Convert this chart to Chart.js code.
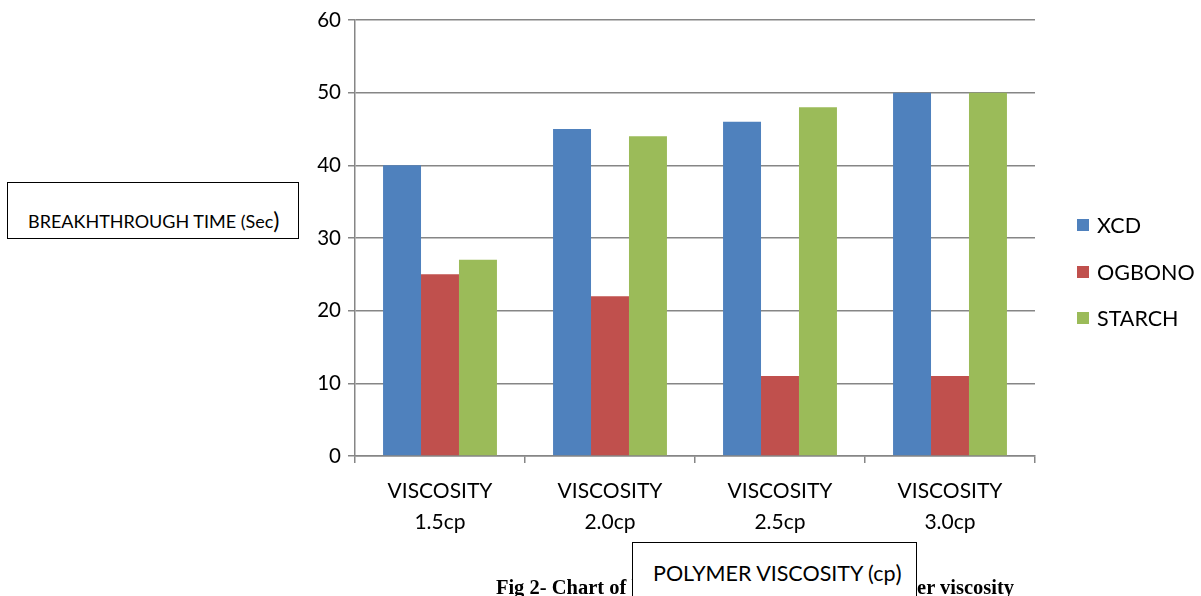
<!DOCTYPE html>
<html>
<head>
<meta charset="utf-8">
<script src="https://cdn.jsdelivr.net/npm/chart.js@4.4.1/dist/chart.umd.min.js"></script>
<style>
  html,body{margin:0;padding:0;background:#fff;}
  #wrap{position:relative;width:1201px;height:596px;overflow:hidden;font-family:Lato,"Open Sans",sans-serif;}
  #c{position:absolute;left:0;top:0;}
  .box{position:absolute;border:1.5px solid #000;background:#fff;box-sizing:border-box;color:#000;}
  #ylab{left:7px;top:182px;width:292px;height:57px;font-size:18px;}
  #ylab .t{position:absolute;left:20px;top:22px;white-space:nowrap;}
  .p{font-size:23px;position:relative;top:1px;}
  #xlab{left:632px;top:542px;width:285px;height:70px;font-size:21.5px;}
  #xlab .t{position:absolute;left:20px;top:15px;white-space:nowrap;}
  #caption{position:absolute;left:0;width:1510px;top:576px;text-align:center;font-family:"Liberation Serif","Times New Roman",serif;font-weight:bold;font-size:20.5px;white-space:nowrap;color:#000;}
  #legend{position:absolute;left:1077px;top:211px;font-size:21.5px;}
  #legend .item{position:relative;height:46.5px;white-space:nowrap;}
  #legend .sw{position:absolute;left:0;top:8px;width:12px;height:12px;}
  #legend .lbl{position:absolute;left:20px;top:0;line-height:28px;}
</style>
</head>
<body>
<div id="wrap">
  <canvas id="c" width="1201" height="596"></canvas>
  <div id="caption">Fig 2- Chart of breakthrough time versus polymer viscosity</div>
  <div id="ylab" class="box"><span class="t">BREAKHTHROUGH TIME (Sec<span class="p">)</span></span></div>
  <div id="xlab" class="box"><span class="t">POLYMER VISCOSITY (cp<span class="p">)</span></span></div>
  <div id="legend"></div>
</div>
<script>
const categories = [["VISCOSITY","1.5cp"],["VISCOSITY","2.0cp"],["VISCOSITY","2.5cp"],["VISCOSITY","3.0cp"]];
const seriesNames = ["XCD","OGBONO","STARCH"];
const xcd = [40,45,46,50];
const ogbono = [25,22,11,11];
const starch = [27,44,48,50];
const yTicks = [0,10,20,30,40,50,60];
const colors = ["#4F81BD","#C0504D","#9BBB59"];

const seriesValues = [xcd, ogbono, starch];
const datasets = seriesNames.map((n,i)=>({
  label:n, data:seriesValues[i], backgroundColor:colors[i], borderWidth:0,
  categoryPercentage:0.67, barPercentage:1.0
}));

const legend = document.getElementById('legend');
seriesNames.forEach((n,i)=>{
  const d=document.createElement('div');d.className='item';
  d.innerHTML='<div class="sw" style="background:'+colors[i]+'"></div><div class="lbl">'+n+'</div>';
  legend.appendChild(d);
});

new Chart(document.getElementById('c'),{
  type:'bar',
  data:{labels:categories,datasets},
  options:{
    responsive:false,animation:false,
    devicePixelRatio:1,
    layout:{padding:{left:0,right:166,top:20,bottom:0}},
    plugins:{legend:{display:false},tooltip:{enabled:false}},
    scales:{
      x:{
        afterFit:(s)=>{s.height=140;},
        grid:{drawOnChartArea:false,offset:true,color:'#868686',lineWidth:1.5,tickLength:7},
        border:{color:'#868686',width:1.5},
        ticks:{color:'#000',font:{family:'Lato',size:21,lineHeight:1.48},padding:13,maxRotation:0,autoSkip:false}
      },
      y:{
        min:0,max:60,
        afterFit:(s)=>{s.width=355;},
        afterBuildTicks:(s)=>{s.ticks=yTicks.map(v=>({value:v}));},
        grid:{color:'#868686',lineWidth:1.5,tickLength:7},
        border:{color:'#868686',width:1.5},
        ticks:{color:'#000',font:{family:'Lato',size:20.5},padding:7}
      }
    }
  }
});
</script>
</body>
</html>
